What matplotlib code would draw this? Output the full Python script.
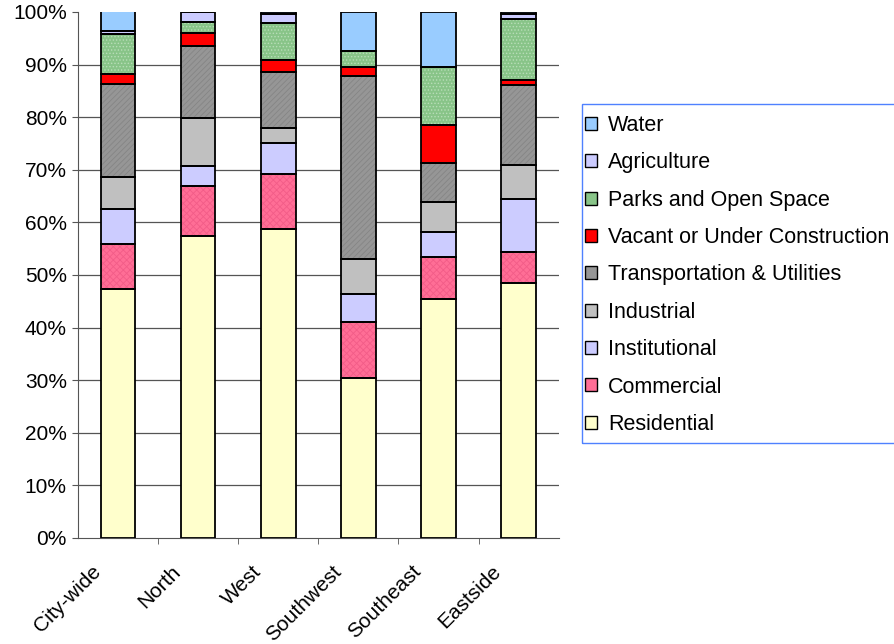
import numpy as np
import matplotlib
matplotlib.use("Agg")
import matplotlib.pyplot as plt
from matplotlib.patches import Patch, Rectangle
from matplotlib.transforms import ScaledTranslation

plt.rcParams['font.family'] = ['Liberation Sans', 'DejaVu Sans']
plt.rcParams['hatch.linewidth'] = 0.6

areas = ['City-wide', 'North', 'West', 'Southwest', 'Southeast', 'Eastside']

# land use shares in percent, bottom of the stack first
residential = [47.3, 57.4, 58.7, 30.4, 45.4, 48.5]
commercial = [8.6, 9.5, 10.5, 10.6, 8.0, 5.9]
institutional = [6.7, 3.8, 5.9, 5.3, 4.8, 10.1]
industrial = [6.1, 9.1, 2.9, 6.7, 5.7, 6.5]
transportation = [17.7, 13.7, 10.6, 34.9, 7.4, 15.2]
vacant = [1.9, 2.5, 2.3, 1.7, 7.2, 0.8]
parks = [7.6, 2.1, 7.0, 3.0, 11.0, 11.6]
agriculture = [0.4, 1.9, 1.7, 0.0, 0.0, 1.0]
water = [3.8, 0.0, 0.4, 7.4, 10.5, 0.4]

layers = [
    ('Residential', residential, '#FFFFCC', None, None),
    ('Commercial', commercial, '#FF6E96', 'xxxxx', '#F25C88'),
    ('Institutional', institutional, '#CCCCFF', None, None),
    ('Industrial', industrial, '#C0C0C0', None, None),
    ('Transportation & Utilities', transportation, '#969696', '//////', '#858585'),
    ('Vacant or Under Construction', vacant, '#FF0000', None, None),
    ('Parks and Open Space', parks, '#88C488', '.....', '#B8DDB8'),
    ('Agriculture', agriculture, '#CCCCFF', None, None),
    ('Water', water, '#99CCFF', None, None),
]

fig = plt.figure(figsize=(8.94, 6.44), dpi=100)
ax = fig.add_axes([0.0872, 0.1646, 0.5378, 0.8168])

x = np.arange(len(areas))
width = 0.43
bottom = np.zeros(len(areas))
handles = []
for name, vals, color, hatch, hcolor in layers:
    vals = np.array(vals)
    if hatch:
        ax.bar(x, vals, width, bottom=bottom, color=color, hatch=hatch,
               edgecolor=hcolor, linewidth=0, zorder=2)
    else:
        ax.bar(x, vals, width, bottom=bottom, color=color, linewidth=0, zorder=2)
    ax.bar(x, vals, width, bottom=bottom, fill=False, edgecolor='black',
           linewidth=1.3, zorder=3)
    bottom += vals
    handles.append(Patch(facecolor=color, edgecolor='black', linewidth=1.0, label=name))

for v in range(10, 100, 10):
    ax.axhline(v, color='#555555', linewidth=0.9, zorder=1)

ax.set_xlim(-0.5, len(areas) - 0.5)
ax.set_ylim(0, 100)
ax.set_yticks(range(0, 101, 10))
ax.set_yticklabels([f'{v}%' for v in range(0, 101, 10)], fontsize=15)

# category names sit left of the bars, slanted at 45 degrees
ax.set_xticks([])
ax.set_xticks(np.arange(0.5, len(areas) - 0.5, 1), minor=True)
ax.tick_params(axis='x', which='minor', length=4, direction='out', color='#555555')
ax.tick_params(axis='y', length=4.5, direction='out', color='#555555')
offset = ScaledTranslation(-27 / 100, -24 / 100, fig.dpi_scale_trans)
for i, name in enumerate(areas):
    ax.text(i, 0, name, transform=ax.get_xaxis_transform() + offset,
            rotation=45, rotation_mode='anchor', ha='right', va='top',
            fontsize=15)

for s in ['top', 'right']:
    ax.spines[s].set_visible(False)
ax.spines['left'].set_color('#555555')
ax.spines['bottom'].set_color('#555555')

# legend box runs off the right edge of the figure
fig.patches.append(Rectangle((582 / 894, 1 - 443 / 644), 0.4, 339 / 644,
                             transform=fig.transFigure, fill=False,
                             edgecolor='#4F81FF', linewidth=1.0))
fig.legend(handles=handles[::-1], loc='upper left',
           bbox_to_anchor=(585 / 894, 1 - 115 / 644),
           fontsize=15.5, frameon=False, handlelength=0.55, handleheight=0.55,
           handletextpad=0.53, labelspacing=0.76, borderpad=0, borderaxespad=0)

fig.savefig('out.png', dpi=100)
